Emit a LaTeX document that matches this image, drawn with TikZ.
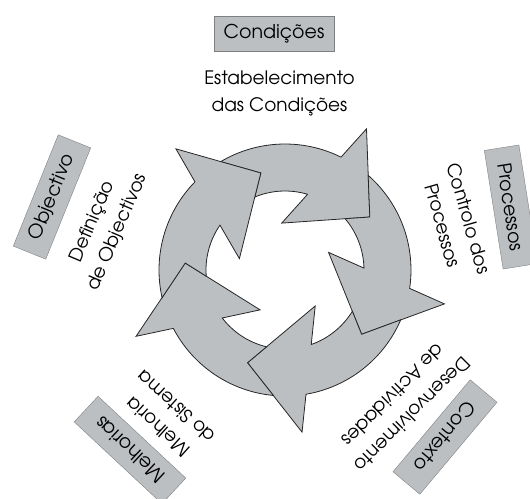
\documentclass[tikz,border=0pt]{standalone}
\usepackage{fontspec}
\setmainfont{TeX Gyre Adventor}
\usepackage{tikz}
\definecolor{arrowgray}{RGB}{188,191,194}
\definecolor{boxgray}{RGB}{188,191,194}
\def\arrowpiece{(120.7:126) arc[start angle=120.7, end angle=63.6, radius=126pt] -- (60:163) -- (32:100) -- (94:47) -- (73.4:79) arc[start angle=73.4, end angle=112.5, radius=79pt] -- (104:100) -- cycle}
\tikzset{
  flow/.style={fill=arrowgray, draw=black!85, line width=0.8pt},
  labelbox/.style={draw=gray, fill=boxgray, minimum width=120pt, minimum height=35pt, inner sep=0pt, font=\fontsize{19}{22}\selectfont},
  stage/.style={align=center, inner sep=1pt, font=\fontsize{18.5}{27}\selectfont}
}

\begin{document}
\begin{tikzpicture}[x=1pt,y=1pt]
    \useasboundingbox (-285,-228) rectangle (245,270);
    \draw[flow] \arrowpiece;
    \draw[flow,rotate=-72] \arrowpiece;
    \draw[flow,rotate=-144] \arrowpiece;
    \draw[flow,rotate=-216] \arrowpiece;
    \draw[flow,rotate=-288] \arrowpiece;
    \node[labelbox] (cond) at (-11,236) {Condições};
    \node[stage] (estab) at (-5.5,177) {Estabelecimento\\das Condições};
    \node[labelbox,rotate=-81] (proc) at (226,63) {Processos};
    \node[stage,rotate=-74] (ctrl) at (171,48) {Controlo dos\\Processos};
    \node[labelbox,rotate=-130] (cont) at (160,-167) {Contexto};
    \node[stage,rotate=-135] (desen) at (118,-135) {Desenvolvimento\\de Actividades};
    \node[labelbox,rotate=137] (melh) at (-155,-180) {Melhorias};
    \node[stage,rotate=138] (melhs) at (-118,-147) {Melhoria\\do Sistema};
    \node[labelbox,rotate=68] (obj) at (-233,73) {Objectivo};
    \node[stage,rotate=67] (defin) at (-180,43) {Definição\\de Objectivos};
\end{tikzpicture}
\end{document}
